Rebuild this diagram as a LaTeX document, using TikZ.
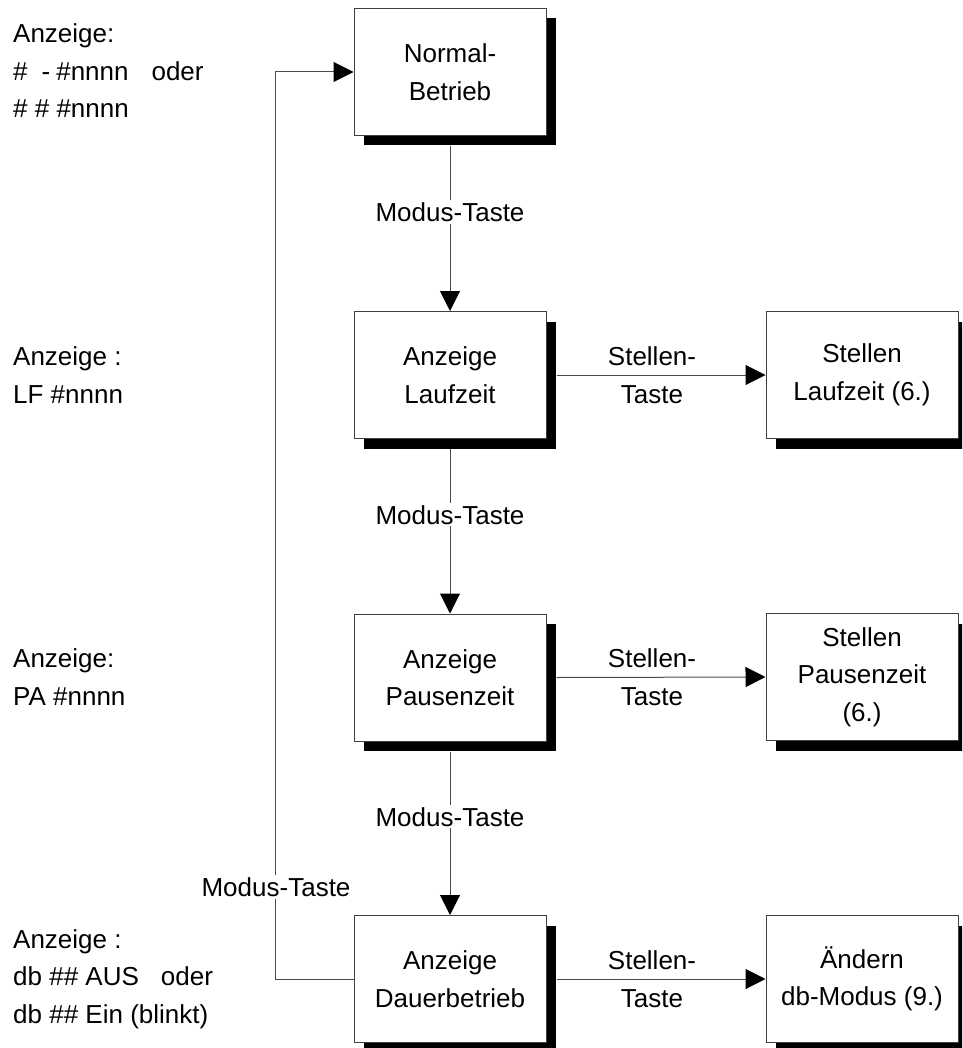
\documentclass[tikz,border=0pt]{standalone}
\usepackage{fontspec}
\setmainfont{Liberation Sans}
\usetikzlibrary{arrows.meta,shadows}
\begin{document}
\begin{tikzpicture}[x=1pt,y=-1pt,
  every node/.style={font=\fontsize{26}{37.5}\selectfont},
  box/.style={draw=black!75,line width=1pt,fill=white,minimum width=192pt,minimum height=127pt,align=center,inner sep=0pt,
    drop shadow={shadow xshift=10pt,shadow yshift=-10pt,opacity=1,fill=black}},
  conn/.style={draw=black!70,line width=1pt,-{Triangle[width=20pt,length=20pt,color=black]}},
  lbl/.style={fill=white,inner sep=2pt},
  slbl/.style={align=center,inner sep=0pt},
  side/.style={anchor=west,align=left,inner sep=0pt}]
\useasboundingbox (0,0) rectangle (962,1048);
\clip (0,0) rectangle (962,1048);
\node[box] (normal) at (450,72) {Normal-\\Betrieb};
\node[box] (lauf) at (450,375) {Anzeige\\Laufzeit};
\node[box] (pause) at (450,677.5) {Anzeige\\Pausenzeit};
\node[box] (dauer) at (450,979) {Anzeige\\Dauerbetrieb};
\node[box] (stl) at (862,375) {Stellen\\Laufzeit (6.)};
\node[box] (stp) at (862,677) {Stellen\\Pausenzeit\\(6.)};
\node[box] (aend) at (862,979) {Ändern\\db-Modus (9.)};

\draw[conn] ([yshift=-10pt]normal.south) -- node[lbl,pos=0.4] (m1) {Modus-Taste} (lauf.north);
\draw[conn] ([yshift=-10pt]lauf.south) -- node[lbl,pos=0.4] (m2) {Modus-Taste} (pause.north);
\draw[conn] ([yshift=-10pt]pause.south) -- node[lbl,pos=0.4] (m3) {Modus-Taste} (dauer.north);

\draw[conn] ([xshift=10pt]lauf.east) -- node[slbl,pos=0.457] (s1) {Stellen-\\Taste} (stl.west);
\draw[conn] ([xshift=10pt]pause.east) -- node[slbl,pos=0.457] (s2) {Stellen-\\Taste} (stp.west);
\draw[conn] ([xshift=10pt]dauer.east) -- node[slbl,pos=0.457] (s3) {Stellen-\\Taste} (aend.west);

\coordinate (lb) at (275,979);
\coordinate (lt) at (275,72);
\draw[conn] (dauer.west) -- (lb) -- (lt) -- (normal.west);
\node[lbl] (m4) at (276,887) {Modus-Taste};

\node[side] (t1) at (13,71) {Anzeige:\\\#\hspace{14pt}-\hspace{6pt}\#nnnn\hspace{23pt}oder\\\# \# \#nnnn};
\node[side] (t2) at (13,375) {Anzeige :\\LF \#nnnn};
\node[side] (t3) at (13,677) {Anzeige:\\PA \#nnnn};
\node[side] (t4) at (13,979) {Anzeige :\\db \#\# AUS\hspace{22pt}oder\\db \#\# Ein (blinkt)};
\end{tikzpicture}
\end{document}
